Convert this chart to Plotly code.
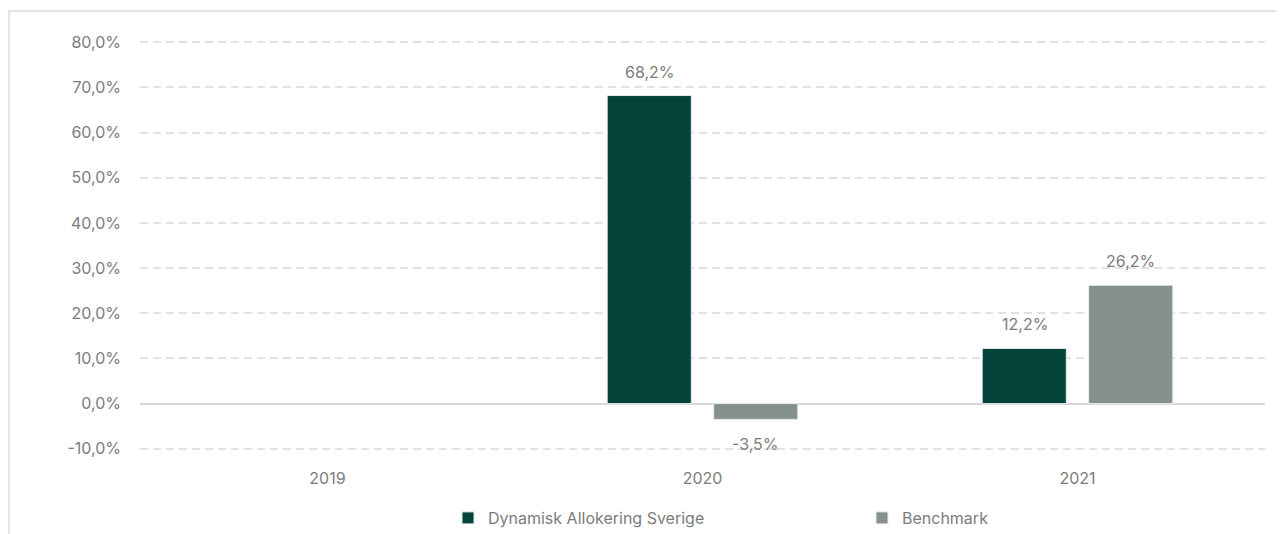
import plotly.graph_objects as go

years = ["2019", "2020", "2021"]
fund_name = "Dynamisk Allokering Sverige"
bench_name = "Benchmark"
fund_values = [None, 68.2, 12.2]
bench_values = [None, -3.5, 26.2]
y_tick_values = [-10, 0, 10, 20, 30, 40, 50, 60, 70, 80]
y_tick_labels = ["-10,0%", "0,0%", "10,0%", "20,0%", "30,0%",
                 "40,0%", "50,0%", "60,0%", "70,0%", "80,0%"]

DARK = "#03433A"
GRAY = "#84928B"
TXT = "#7C7C7C"
FONT = "Inter"

# page body adds an 8px offset; the figure is sized to fill the rest of the window
OFF = 8
W, H = 1284 - OFF, 534 - OFF
L, R, T, B = 140 - OFF, 19, 32, 83

fig = go.Figure()
fig.add_bar(x=years, y=fund_values, name=fund_name,
            marker=dict(color=DARK, line=dict(color="#E8ECEA", width=1)))
fig.add_bar(x=years, y=bench_values, name=bench_name,
            marker=dict(color=GRAY, line=dict(color="#E8ECEA", width=1)))

def fmt(v):
    return f"{v:.1f}".replace(".", ",") + "%"

for vals, xs in ((fund_values, -53), (bench_values, 53)):
    for i, v in enumerate(vals):
        if v is None:
            continue
        fig.add_annotation(x=i, y=v, text=fmt(v), showarrow=False,
                           xshift=xs, yshift=24 if v >= 0 else -25,
                           yanchor="middle", xanchor="center",
                           font=dict(family=FONT, size=16, color=TXT))

pw = W - L - R
ph = H - T - B
def px(xpix):
    return (xpix - OFF - L) / pw
def py(ypix):
    return (H - B - (ypix - OFF)) / ph

# outer container border (left and top)
fig.add_shape(type="line", xref="paper", yref="paper",
              x0=px(9), x1=px(1290), y0=py(11), y1=py(11),
              line=dict(color="#DADADA", width=1.5))
fig.add_shape(type="line", xref="paper", yref="paper",
              x0=px(9), x1=px(9), y0=py(11), y1=py(540),
              line=dict(color="#DADADA", width=1.5))

fig.update_layout(
    width=W, height=H,
    margin=dict(l=L, r=R, t=T, b=B, autoexpand=False),
    paper_bgcolor="white", plot_bgcolor="white",
    separators=",.",
    barmode="group", bargap=0.432, bargroupgap=0.21,
    font=dict(family=FONT, size=16, color=TXT),
    showlegend=True,
    legend=dict(orientation="h", x=px(448), xanchor="left",
                y=py(518), yanchor="middle",
                entrywidth=369, entrywidthmode="pixels",
                font=dict(family=FONT, size=16, color=TXT),
                bgcolor="rgba(0,0,0,0)"),
)
fig.update_yaxes(range=[-10.5, 80.5], tickmode="array",
                 tickvals=y_tick_values, ticktext=y_tick_labels,
                 showgrid=True, gridcolor="#E2E2E2", griddash="8px,5px", gridwidth=1.5,
                 zeroline=True, zerolinecolor="#D9D9D9", zerolinewidth=2,
                 showline=False, ticks="", ticklabelstandoff=18,
                 tickfont=dict(family=FONT, size=16, color=TXT))
fig.update_xaxes(type="category", range=[-0.5, len(years) - 0.5],
                 showgrid=False, showline=False, ticks="",
                 ticklabelstandoff=16,
                 tickfont=dict(family=FONT, size=16, color=TXT))

fig.write_html("out.html")
